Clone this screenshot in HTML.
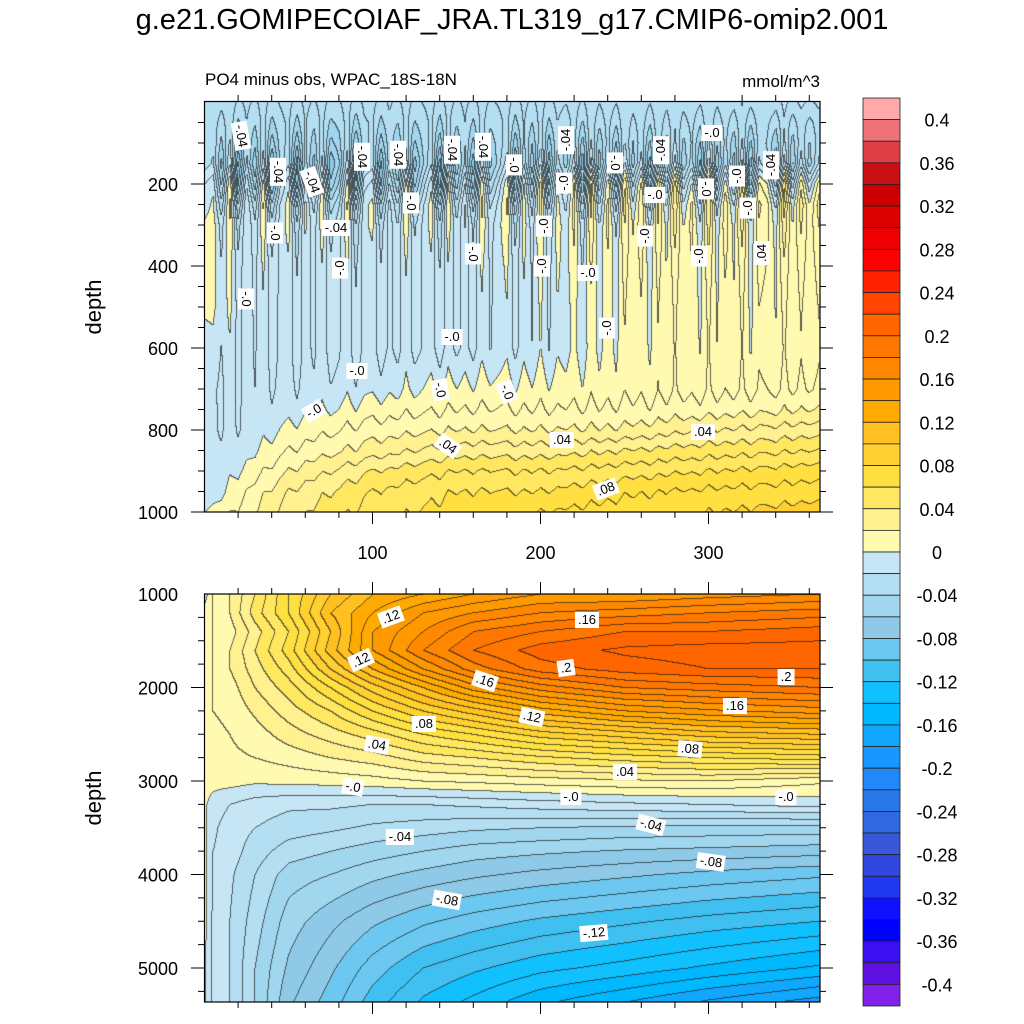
<!DOCTYPE html>
<html><head><meta charset="utf-8">
<style>
body{margin:0;background:#fff;width:1024px;height:1024px;overflow:hidden;position:relative;font-family:"Liberation Sans",sans-serif;}
.t{position:absolute;white-space:nowrap;color:#000;}
.lbl{position:absolute;background:#fff;font-size:13px;padding:0 3px;line-height:16px;transform-origin:center center;white-space:nowrap;}
canvas{position:absolute;}
</style></head>
<body>
<div class="t" style="left:0;width:1024px;text-align:center;top:4px;font-size:29px;">g.e21.GOMIPECOIAF_JRA.TL319_g17.CMIP6-omip2.001</div>
<div class="t" style="left:205px;top:70px;font-size:17px;">PO4 minus obs, WPAC_18S-18N</div>
<div class="t" style="left:700px;width:120px;text-align:right;top:72px;font-size:17px;">mmol/m^3</div>
<canvas id="c1" width="615" height="410" style="left:205px;top:102px"></canvas>
<canvas id="c2" width="615" height="408" style="left:205px;top:594px"></canvas>
<svg id="ax" width="1024" height="1024" style="position:absolute;left:0;top:0"></svg>
<div id="labels"></div>
<script>
// ---------- data ----------
const colors=["#8020e8","#6010e0","#3a10f0","#0000ff","#1010ff","#2038f0","#3048e0","#3858d8","#3068e0","#2878e8","#2088f8","#1898ff","#10a8ff","#00b8ff","#10c0ff","#40c0f0","#6cc8f0","#8ecae8","#a0d6ee","#b4def2","#c6e6f6",
"#fffab0","#fff090","#ffe860","#ffe040","#ffd030","#ffc020","#ffaa00","#ff9900","#ff8800","#ff7700","#ff6600","#ff4400","#ff2200","#ff0000","#ee0000","#dd0000","#cc0000","#c81012","#dd3f45","#ee7277","#ffa9aa"];
const cbLabels=["0.4","0.36","0.32","0.28","0.24","0.2","0.16","0.12","0.08","0.04","0","-0.04","-0.08","-0.12","-0.16","-0.2","-0.24","-0.28","-0.32","-0.36","-0.4"];
const xTicks=[100,200,300];
const topDepthTicks=[200,400,600,800,1000];
const botDepthTicks=[1000,2000,3000,4000,5000];
// top panel grid
const topT=[0,25,50,100,150,200,250,300,366];
const topD=[0,50,100,150,200,250,300,400,500,600,700,750,800,850,900,950,1000];
const topV0=[-0.02,-0.025,-0.025,-0.025,-0.01,-0.005,0.002,0.002,0.002,-0.005,-0.01,-0.01,-0.01,-0.01,-0.01,-0.01,0.0];
const topV1=[-0.03,-0.035,-0.04,-0.045,-0.03,-0.015,-0.01,-0.008,-0.008,-0.008,-0.008,-0.008,-0.008,-0.004,0.002,0.01,0.015];
const topV2=[-0.03,-0.035,-0.04,-0.045,-0.03,-0.015,-0.01,-0.01,-0.01,-0.01,-0.008,-0.005,0.002,0.01,0.02,0.03,0.035];
const topV3=[-0.03,-0.035,-0.04,-0.045,-0.03,-0.015,-0.01,-0.01,-0.01,-0.01,-0.004,0.005,0.015,0.025,0.04,0.05,0.055];
const topV4=[-0.03,-0.035,-0.04,-0.045,-0.03,-0.015,-0.01,-0.01,-0.01,-0.01,0.002,0.01,0.02,0.035,0.05,0.06,0.065];
const topV5=[-0.03,-0.035,-0.04,-0.04,-0.02,-0.01,-0.005,-0.005,-0.006,-0.006,0.003,0.01,0.02,0.035,0.05,0.06,0.07];
const topV6=[-0.025,-0.03,-0.035,-0.035,-0.01,0.0,0.005,0.005,0.004,0.004,0.006,0.012,0.022,0.04,0.055,0.068,0.075];
const topV7=[-0.025,-0.03,-0.035,-0.035,-0.01,0.005,0.008,0.006,0.005,0.005,0.008,0.015,0.03,0.045,0.06,0.072,0.08];
const topV8=[-0.02,-0.03,-0.035,-0.035,-0.005,0.01,0.01,0.008,0.006,0.005,0.01,0.02,0.035,0.05,0.065,0.075,0.085];
// striation amplitude with depth and pattern in time (every 5 days)
const stripeD=[0,50,100,150,200,250,300,400,500,600,700,800,1000];
const stripeAmp=[0.005,0.01,0.02,0.035,0.04,0.03,0.02,0.012,0.009,0.007,0.005,0.003,0.002];
const stripePat=[0,0.3,-0.6,0.8,-0.9,0.5,-0.4,0.9,-0.8,0.2,0.7,-0.9,0.6,-0.3,0.8,-0.7,-0.2,0.9,-1,0.4,0.6,-0.8,0.3,-0.5,0.9,-0.6,0.1,0.7,-0.9,0.8,-0.4,0.5,-0.7,0.9,-0.3,0.2,0.8,-0.9,0.6,-0.5,0.9,-0.8,0.4,-0.2,0.7,-0.9,0.9,-0.6,0.5,-0.8,0.8,-0.3,0.6,-0.9,0.7,-0.5,0.9,-0.4,0.3,-0.8,0.9,-0.7,0.4,-0.6,0.8,-0.9,0.5,0.2,-0.7,0.9,-0.5,0.6,-0.3,0.4];
// bottom panel grid
const botT=[0,5,15,30,50,75,100,130,160,200,250,300,366];
const botD=[1000,1200,1400,1600,1800,2000,2250,2500,2750,3000,3250,3500,3750,4000,4500,5000,5365];
const botV0=[-0.005,0.005,0.005,0.005,0.005,0.005,0.005,0.005,0.005,0.005,0.002,0.002,0.003,0.003,0.003,0.002,0.002];
const botV1=[0.01,0.01,0.01,0.01,0.01,0.01,0.01,0.008,0.006,0.004,-0.005,-0.008,-0.01,-0.01,-0.012,-0.012,-0.012];
const botV2=[0.02,0.02,0.015,0.02,0.02,0.015,0.012,0.01,0.008,0.004,-0.01,-0.015,-0.015,-0.018,-0.02,-0.02,-0.02];
const botV3=[0.04,0.045,0.035,0.04,0.035,0.03,0.022,0.015,0.01,0.002,-0.015,-0.02,-0.025,-0.03,-0.035,-0.04,-0.04];
const botV4=[0.07,0.07,0.06,0.065,0.055,0.045,0.035,0.025,0.014,0.003,-0.018,-0.025,-0.035,-0.045,-0.055,-0.062,-0.068];
const botV5=[0.10,0.11,0.10,0.105,0.09,0.07,0.05,0.035,0.02,0.004,-0.018,-0.028,-0.04,-0.05,-0.067,-0.078,-0.085];
const botV6=[0.12,0.13,0.14,0.14,0.12,0.095,0.07,0.045,0.025,0.006,-0.02,-0.032,-0.045,-0.057,-0.078,-0.095,-0.105];
const botV7=[0.13,0.15,0.16,0.17,0.15,0.12,0.09,0.06,0.035,0.01,-0.02,-0.035,-0.05,-0.063,-0.088,-0.11,-0.122];
const botV8=[0.14,0.16,0.18,0.19,0.175,0.145,0.105,0.07,0.04,0.012,-0.018,-0.038,-0.055,-0.068,-0.095,-0.118,-0.133];
const botV9=[0.15,0.17,0.19,0.205,0.195,0.165,0.125,0.085,0.048,0.015,-0.015,-0.04,-0.058,-0.073,-0.102,-0.127,-0.148];
const botV10=[0.15,0.175,0.2,0.212,0.205,0.18,0.14,0.095,0.055,0.018,-0.012,-0.042,-0.061,-0.078,-0.108,-0.134,-0.16];
const botV11=[0.155,0.18,0.2,0.215,0.21,0.185,0.148,0.105,0.06,0.02,-0.01,-0.043,-0.063,-0.083,-0.114,-0.142,-0.172];
const botV12=[0.16,0.185,0.205,0.215,0.21,0.19,0.155,0.11,0.065,0.012,-0.006,-0.044,-0.066,-0.088,-0.12,-0.152,-0.185];
// contour labels (pixel annotations): x, y, text, rotation
const topLabels=[[241,136,'-.04',80],[278,172,'-.04',90],[312,182,'-.04',70],[362,157,'-.04',90],[398,155,'-.04',90],[452,150,'-.04',90],[483,147,'-.04',90],[514,165,'-.0',90],[566,140,'-.04',-90],[564,183,'-.0',-90],[615,163,'-.0',90],[661,150,'-.04',-90],[712,133,'-.0',0],[771,165,'-.04',-90],[275,233,'-.0',90],[336,228,'-.04',0],[411,203,'-.0',90],[473,254,'-.0',90],[544,226,'-.0',-90],[645,236,'-.0',-90],[706,189,'-.0',90],[737,176,'-.0',-90],[748,208,'-.0',-90],[655,195,'-.0',0],[340,268,'-.0',-90],[246,299,'-.0',90],[542,266,'-.0',-90],[588,273,'-.0',0],[699,256,'-.0',-90],[762,253,'.04',-90],[607,328,'-.0',-90],[452,337,'-.0',0],[357,371,'-.0',0],[440,390,'-.0',80],[507,392,'-.0',70],[314,411,'-.0',-30],[448,446,'.04',35],[562,440,'.04',0],[703,432,'.04',0],[606,489,'.08',-20]];
const botLabels=[[391,617,'.12',-20],[361,660,'.12',-25],[587,620,'.16',0],[566,668,'.2',-8],[485,681,'.16',18],[532,717,'.12',12],[424,724,'.08',0],[377,745,'.04',10],[353,787,'-.0',10],[786,677,'.2',0],[735,706,'.16',0],[690,749,'.08',5],[625,772,'.04',0],[571,797,'-.0',0],[786,797,'-.0',0],[400,837,'-.04',0],[651,825,'-.04',15],[711,862,'-.08',8],[447,900,'-.08',10],[594,933,'-.12',-5]];

// ---------- scales ----------
const X0=204.5,XS=1.68;
const xPix=t=>X0+t*XS;
const topY=d=>102+d*0.41;
const botY=d=>594+(d-1000)*0.0935;

function locate(arr,v){let i=0;while(i<arr.length-2&&v>arr[i+1])i++;let f=(v-arr[i])/(arr[i+1]-arr[i]);f=Math.max(0,Math.min(1,f));return [i,f];}
function interp1(xs,ys,v){const [i,f]=locate(xs,v);return ys[i]*(1-f)+ys[i+1]*f;}
function bilin(ts,ds,cols,t,d){const [i,f]=locate(ts,t);const a=interp1(ds,cols[i],d),b=interp1(ds,cols[i+1],d);return a*(1-f)+b*f;}
function hex(c){return [parseInt(c.slice(1,3),16),parseInt(c.slice(3,5),16),parseInt(c.slice(5,7),16)];}
const rgb=colors.map(hex);
function colorIdx(v){let k=Math.floor((v+0.4)/0.02)+1;return Math.max(0,Math.min(colors.length-1,k));}

function render(id,W,H,valFn){
  const cv=document.getElementById(id),ctx=cv.getContext('2d');
  const vals=new Float32Array(W*H);
  for(let y=0;y<H;y++)for(let x=0;x<W;x++)vals[y*W+x]=valFn(x,y);
  const img=ctx.createImageData(W,H);
  const lev=v=>Math.floor(v/0.01);
  for(let y=0;y<H;y++)for(let x=0;x<W;x++){
    const v=vals[y*W+x];let c=rgb[colorIdx(v)];
    const l=lev(v);let edge=false;
    if(x<W-1&&lev(vals[y*W+x+1])!==l)edge=true;
    if(y<H-1&&lev(vals[(y+1)*W+x])!==l)edge=true;
    const p=(y*W+x)*4;
    if(edge){img.data[p]=c[0]*0.3+20;img.data[p+1]=c[1]*0.3+20;img.data[p+2]=c[2]*0.3+20;}
    else{img.data[p]=c[0];img.data[p+1]=c[1];img.data[p+2]=c[2];}
    img.data[p+3]=255;
  }
  ctx.putImageData(img,0,0);
}
const topCols=[topV0,topV1,topV2,topV3,topV4,topV5,topV6,topV7,topV8];
const botCols=[botV0,botV1,botV2,botV3,botV4,botV5,botV6,botV7,botV8,botV9,botV10,botV11,botV12];
function stripe(t){const u=t/5;let i=Math.floor(u);i=Math.max(0,Math.min(stripePat.length-2,i));const f=u-i;return stripePat[i]*(1-f)+stripePat[i+1]*f;}
render('c1',615,410,(x,y)=>{const t=(x+205-X0)/XS,d=(y)/0.41;
  return bilin(topT,topD,topCols,t,d)+interp1(stripeD,stripeAmp,d)*stripe(t);});
render('c2',615,408,(x,y)=>{const t=(x+205-X0)/XS,d=1000+y/0.0935;return bilin(botT,botD,botCols,t,d);});

// ---------- axes ----------
const NS='http://www.w3.org/2000/svg';const svg=document.getElementById('ax');
function el(tag,attrs,name,txt){const e=document.createElementNS(NS,tag);for(const k in attrs)e.setAttribute(k,attrs[k]);
 
 
 if(txt!==undefined)e.textContent=txt;svg.appendChild(e);return e;}
function frame(top,bot,name){el('rect',{x:204.5,y:top,width:615.5,height:bot-top,fill:'none',stroke:'#000','stroke-width':1.2},name);}
frame(101.5,512,'top-panel-frame');frame(594,1002,'bottom-panel-frame');
// x ticks
for(let t=20;t<366;t+=20){const major=t%100===0;
  const x=xPix(t);
  if(!major){el('line',{x1:x,x2:x,y1:101.5,y2:95,stroke:'#000'},'top-x-minor-tick');}
  el('line',{x1:x,x2:x,y1:512,y2:major?524:518,stroke:'#000'},'top-x-bottom-tick');
  el('line',{x1:x,x2:x,y1:594,y2:major?582:588,stroke:'#000'},'bottom-x-top-tick');
  el('line',{x1:x,x2:x,y1:1002,y2:major?1014:1008,stroke:'#000'},'bottom-x-tick');
}
xTicks.forEach(t=>{el('text',{x:xPix(t),y:559,'font-size':18,'text-anchor':'middle','font-family':'Liberation Sans'},'x-tick-label',String(t));});
// y ticks top
for(let d=50;d<=1000;d+=50){const major=d%200===0;const y=topY(d);
  el('line',{x1:204.5,x2:major?191:198,y1:y,y2:y,stroke:'#000'},'top-y-tick');
  el('line',{x1:820,x2:major?833:826,y1:y,y2:y,stroke:'#000'},'top-y-right-tick');}
topDepthTicks.forEach(d=>el('text',{x:178,y:topY(d)+7,'font-size':18,'text-anchor':'end','font-family':'Liberation Sans'},'top-y-tick-label',String(d)));
for(let d=1250;d<=5250;d+=250){const major=d%1000===0;const y=botY(d);
  el('line',{x1:204.5,x2:major?191:198,y1:y,y2:y,stroke:'#000'},'bottom-y-tick');
  el('line',{x1:820,x2:major?833:826,y1:y,y2:y,stroke:'#000'},'bottom-y-right-tick');}
botDepthTicks.forEach(d=>el('text',{x:178,y:botY(d)+7,'font-size':18,'text-anchor':'end','font-family':'Liberation Sans'},'bottom-y-tick-label',String(d)));
el('text',{x:0,y:0,'font-size':22,'text-anchor':'middle','font-family':'Liberation Sans',transform:'translate(101,307) rotate(-90)'},'top-y-axis-title','depth');
el('text',{x:0,y:0,'font-size':22,'text-anchor':'middle','font-family':'Liberation Sans',transform:'translate(101,798) rotate(-90)'},'bottom-y-axis-title','depth');
// colorbar
const cbTop=98,cbBox=908/42;
for(let i=0;i<colors.length;i++){const c=colors[colors.length-1-i];
  el('rect',{x:863,y:cbTop+i*cbBox,width:37,height:cbBox,fill:c,stroke:'#222','stroke-width':0.8},'colorbar-box');}
cbLabels.forEach((s,i)=>el('text',{x:937,y:cbTop+(2*i+1)*cbBox+7,'font-size':18,'text-anchor':'middle','font-family':'Liberation Sans'},'colorbar-label',s));
// contour labels
const lab=document.getElementById('labels');
function addLabels(arr,name){arr.forEach(a=>{const d=document.createElement('div');d.className='lbl';d.textContent=a[2];
 
 
 d.style.left=a[0]+'px';d.style.top=a[1]+'px';d.style.transform='translate(-50%,-50%) rotate('+a[3]+'deg)';lab.appendChild(d);});}
addLabels(topLabels,'top-contour-label');addLabels(botLabels,'bottom-contour-label');
</script>
</body></html>
